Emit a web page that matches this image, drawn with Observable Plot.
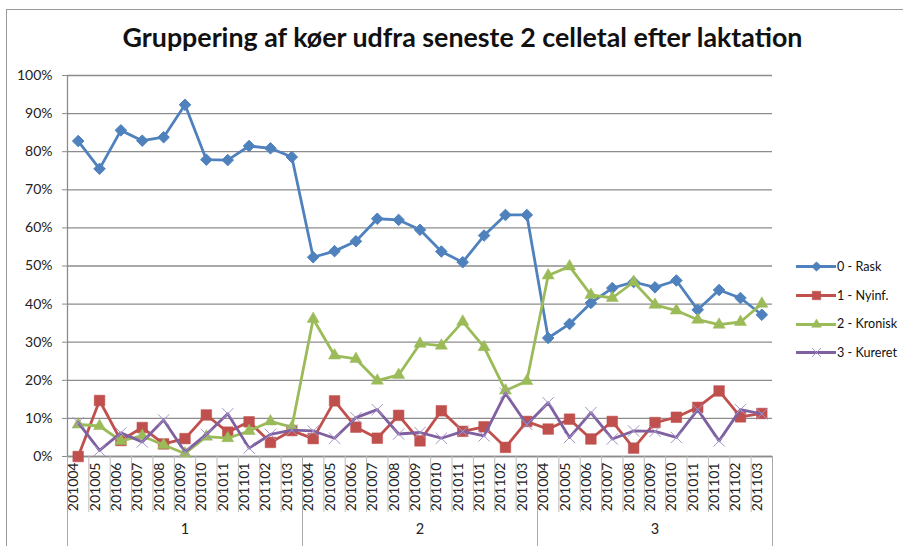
<!DOCTYPE html>
<html>
<head>
<meta charset="utf-8">
<script src="https://cdn.jsdelivr.net/npm/d3@7"></script>
<script src="https://cdn.jsdelivr.net/npm/@observablehq/plot@0.6"></script>
<style>
  html, body { margin: 0; padding: 0; background: #fff; }
  #wrap { position: relative; width: 903px; height: 546px; overflow: hidden; font-family: Lato, "Open Sans", sans-serif; }
  #frame { position: absolute; left: 6px; top: 9px; width: 1000px; height: 1000px; border-left: 1px solid #999; border-top: 1px solid #999; pointer-events: none; }
  #title { height: 62px; width: 903px; text-align: center; font-weight: bold; font-size: 26.8px; line-height: 62px; padding-top: 6px; box-sizing: border-box; color: #111; margin-left: 11px; white-space: nowrap; }
  #legend { position: absolute; left: 796px; top: 252px; font-size: 12.6px; color: #111; white-space: nowrap; width: 106px; }
  .item { display: flex; align-items: center; height: 28.7px; white-space: nowrap; }
  .item svg { margin-right: 1px; flex: none; }
</style>
</head>
<body>
<div id="wrap">
  <div id="frame"></div>
  <div id="title">Gruppering af køer udfra seneste 2 celletal efter laktation</div>
  <div id="chart"></div>
  <div id="legend"></div>
</div>
<script>
// Category labels (per group) and group labels
const months = ["201004","201005","201006","201007","201008","201009","201010","201011","201101","201102","201103"];
const groups = ["1","2","3"];
const seriesNames = ["0 - Rask","1 - Nyinf.","2 - Kronisk","3 - Kureret"];
const yTicks = [0,10,20,30,40,50,60,70,80,90,100];

// Values in percent, 33 points each (group 1, 2, 3)
const rask = [82.8,75.5,85.6,82.9,83.8,92.3,77.9,77.8,81.5,80.9,78.6,
              52.3,53.9,56.5,62.4,62.1,59.5,53.8,51.0,58.0,63.4,63.4,
              31.1,34.8,40.3,44.2,45.8,44.4,46.2,38.5,43.7,41.6,37.2];
const nyinf = [0.0,14.7,4.2,7.6,3.3,4.7,10.9,6.4,9.1,3.7,6.8,
               4.7,14.6,7.7,4.8,10.8,4.1,12.0,6.6,7.8,2.4,9.2,
               7.2,9.8,4.6,9.2,2.2,8.9,10.3,12.9,17.2,10.4,11.3];
const kronisk = [8.4,8.0,4.1,5.4,3.0,0.8,5.2,4.8,6.7,9.2,7.7,
                 36.1,26.5,25.6,19.9,21.4,29.6,29.1,35.4,28.7,17.3,19.8,
                 47.5,49.9,42.4,41.6,45.8,39.8,38.3,35.9,34.6,35.3,40.1];
const kureret = [8.9,1.6,6.2,3.8,9.6,1.2,5.8,11.2,2.2,5.8,6.9,
                 6.7,4.8,10.2,12.3,5.9,6.3,4.8,6.6,5.4,16.6,8.4,
                 14.1,5.0,11.5,4.6,6.7,6.6,5.0,12.3,4.1,12.3,11.2];

const colors = ["#4F81BD","#C0504D","#9BBB59","#7F60A0"];
const styles = [
  {symbol: "diamond2", r: 5.2, fill: colors[0], stroke: colors[0], strokeWidth: 1},
  {symbol: "square", r: 6, fill: colors[1], stroke: colors[1], strokeWidth: 0.5},
  {symbol: "triangle", r: 4.5, fill: colors[2], stroke: colors[2], strokeWidth: 0.5},
  {symbol: "times", r: 5.2, fill: "none", stroke: "#A595C8", strokeWidth: 1}
];
const values = [rask, nyinf, kronisk, kureret];

const labels = [];
groups.forEach((g, gi) => months.forEach((m, mi) => labels.push({i: gi * months.length + mi, label: m})));
const nCat = labels.length;

const rowsPerSeries = values.map((arr, s) => arr.map((v, i) => ({series: seriesNames[s], i, v})));

const plotHeight = 484, marginTop = 13, marginBottom = 90;
const frameH = plotHeight - marginTop - marginBottom;
const axisColor = "#8C8C8C";

const marks = [
  Plot.gridY({ticks: yTicks, stroke: axisColor, strokeOpacity: 1, strokeWidth: 1.3}),
  Plot.axisY({ticks: yTicks, tickFormat: d => d + "%", tickSize: 5, tickPadding: 10, stroke: axisColor, fill: "#222", fontSize: 14, label: null}),
  Plot.ruleX([0], {y1: 0, y2: 100, stroke: axisColor, strokeWidth: 1.3}),
  Plot.ruleY([0], {stroke: axisColor, strokeWidth: 1.3}),
  // category separators below the axis
  Plot.ruleX(d3.range(1, nCat).filter(i => i % months.length !== 0), {stroke: "#BBBBBB", insetTop: frameH, insetBottom: -56}),
  // group separators
  Plot.ruleX(d3.range(0, nCat + 1, months.length), {stroke: "#AAAAAA", insetTop: frameH, insetBottom: -marginBottom}),
  // month tick labels
  Plot.text(labels, {x: d => d.i + 0.5, text: "label", frameAnchor: "bottom", rotate: -90, textAnchor: "end", dy: 6, fontSize: 14, fill: "#222"}),
  // group labels
  Plot.text(groups, {x: (d, i) => i * months.length + months.length / 2, text: d => d, frameAnchor: "bottom", dy: 77, fontSize: 14.5, fill: "#222"})
];

rowsPerSeries.forEach((rows, s) => {
  marks.push(Plot.line(rows, {x: d => d.i + 0.5, y: "v", stroke: colors[s], strokeWidth: 2.8, curve: "linear"}));
  marks.push(Plot.dot(rows, {x: d => d.i + 0.5, y: "v", ...styles[s]}));
});

const chart = Plot.plot({
  width: 903,
  height: plotHeight,
  marginLeft: 67,
  marginRight: 131,
  marginTop,
  marginBottom,
  style: {fontFamily: "Lato, 'Open Sans', sans-serif", background: "transparent"},
  x: {type: "linear", domain: [0, nCat], axis: null},
  y: {type: "linear", domain: [0, 100], axis: null},
  marks
});
document.getElementById("chart").appendChild(chart);

// Legend
const legend = document.getElementById("legend");
seriesNames.forEach((name, s) => {
  const item = document.createElement("div");
  item.className = "item";
  const sw = Plot.plot({
    width: 40, height: 16, margin: 0,
    x: {domain: [0, 1], axis: null}, y: {domain: [0, 1], axis: null},
    style: {background: "transparent"},
    marks: [
      Plot.ruleY([0.5], {stroke: colors[s], strokeWidth: 2.8}),
      Plot.dot([{x: 0.5, y: 0.5}], {x: "x", y: "y", ...styles[s], r: styles[s].r * 0.8})
    ]
  });
  item.appendChild(sw);
  const t = document.createElement("span");
  t.textContent = name;
  item.appendChild(t);
  legend.appendChild(item);
});
</script>
</body>
</html>
